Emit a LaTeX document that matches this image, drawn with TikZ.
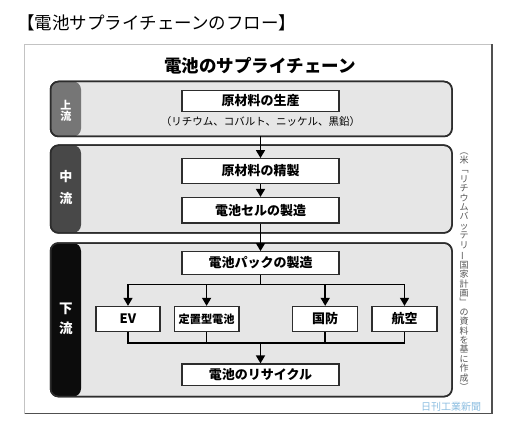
\documentclass[tikz,border=0pt]{standalone}
\usepackage{fontspec}
\usepackage{graphicx}
\usetikzlibrary{arrows.meta}
\setmainfont{Noto Sans CJK JP}
\definecolor{bandfill}{RGB}{230,230,230}
\definecolor{bandline}{RGB}{45,45,45}
\definecolor{tabA}{RGB}{118,118,118}
\definecolor{tabB}{RGB}{72,72,72}
\definecolor{tabC}{RGB}{12,12,12}
\definecolor{framelt}{RGB}{195,195,195}
\definecolor{framedk}{RGB}{80,80,80}
\definecolor{notegray}{RGB}{85,85,85}
\definecolor{wmblue}{RGB}{140,190,225}
\tikzset{
  band/.style={draw=bandline, line width=1.5pt, fill=bandfill, rounded corners=8pt, inner sep=0pt, outer sep=0pt},
  stepbox/.style={draw=bandline, line width=1.3pt, fill=white, inner sep=0pt, font=\bfseries\fontsize{13}{13}\selectfont},
  tablabel/.style={text=white, align=center, inner sep=0pt},
  flow/.style={line width=1.6pt, draw=black},
  flowarrow/.style={flow, -{Triangle[width=9pt,length=8pt]}}
}
\begin{document}
\begin{tikzpicture}[x=1pt,y=-1pt]
\useasboundingbox (0,0) rectangle (529,422);
\fill[white] (0,0) rectangle (529,422);
% title
\node[anchor=west, inner sep=0pt, font=\fontsize{17.5}{17.5}\selectfont] (title) at (17,23) {【電池サプライチェーンのフロー】};
% frame
\fill[white] (24.5,44.5) rectangle (492,413.5);
\draw[framelt, line width=0.8pt] (24.5,413.5) -- (24.5,44.5) -- (492,44.5);
\draw[framedk, line width=1.2pt] (492,44.5) -- (492,413.5) -- (24.5,413.5);
% inner title
\node[font=\bfseries\fontsize{17.5}{17.5}\selectfont, inner sep=0pt] (head) at (260,66) {電池のサプライチェーン};
% bands
\node[band, minimum width=401.5pt, minimum height=55pt,
  path picture={\fill[tabA] (path picture bounding box.north west) rectangle ([xshift=30.5pt]path picture bounding box.south west);}]
  (up) at (251.25,109) {};
\node[band, minimum width=401.5pt, minimum height=87.7pt,
  path picture={\fill[tabB] (path picture bounding box.north west) rectangle ([xshift=30.5pt]path picture bounding box.south west);}]
  (mid) at (251.25,189.05) {};
\node[band, minimum width=401.5pt, minimum height=153.6pt,
  path picture={\fill[tabC] (path picture bounding box.north west) rectangle ([xshift=30.5pt]path picture bounding box.south west);}]
  (down) at (251.25,319.8) {};
\draw[bandline, line width=1.5pt, rounded corners=8pt] (up.north west) rectangle (up.south east);
\draw[bandline, line width=1.5pt, rounded corners=8pt] (mid.north west) rectangle (mid.south east);
\draw[bandline, line width=1.5pt, rounded corners=8pt] (down.north west) rectangle (down.south east);
% tab labels
\node[tablabel, font=\bfseries\fontsize{11}{11.5}\selectfont] (lup) at (65.8,111) {上\\流};
\node[tablabel, font=\bfseries\fontsize{13}{22}\selectfont] (lmid) at (65.8,188) {中\\流};
\node[tablabel, font=\bfseries\fontsize{13.5}{20}\selectfont] (ldown) at (65.8,319) {下\\流};
% boxes
\node[stepbox, minimum width=157pt, minimum height=21pt] (raw) at (260.5,100.9) {原材料の生産};
\node[inner sep=0pt, font=\fontsize{10.5}{10.5}\selectfont] (rawsub) at (260.5,121.5) {（リチウム、コバルト、ニッケル、黒鉛）};
\node[stepbox, minimum width=157pt, minimum height=24.6pt] (refine) at (260.5,171) {原材料の精製};
\node[stepbox, minimum width=157pt, minimum height=25.3pt] (cell) at (260.5,210.2) {電池セルの製造};
\node[stepbox, minimum width=157pt, minimum height=22.5pt] (pack) at (260.5,263) {電池パックの製造};
\node[stepbox, minimum width=64pt, minimum height=25pt] (ev) at (128,319) {EV};
\node[stepbox, minimum width=64.5pt, minimum height=25pt, font=\bfseries\fontsize{11.2}{11.2}\selectfont] (stat) at (206.6,319) {定置型電池};
\node[stepbox, minimum width=64.8pt, minimum height=25pt] (def) at (325.2,319) {国防};
\node[stepbox, minimum width=65pt, minimum height=25pt] (air) at (404.5,319) {航空};
\node[stepbox, minimum width=157pt, minimum height=21.5pt] (rec) at (260.5,374.8) {電池のリサイクル};
% connectors
\coordinate (split) at (260.5,284.3);
\coordinate (merge) at (260.5,342.7);
\draw[flowarrow] (raw.south |- up.south) -- (refine.north);
\draw[flowarrow] (refine.south) -- (cell.north);
\draw[flowarrow] (cell.south) -- (pack.north);
\draw[flow] (pack.south) -- (split);
\draw[flowarrow] (split) -| (ev.north);
\draw[flowarrow] (split) -| (stat.north);
\draw[flowarrow] (split) -| (def.north);
\draw[flowarrow] (split) -| (air.north);
\draw[flow] (ev.south) |- (merge);
\draw[flow] (stat.south) |- (merge);
\draw[flow] (def.south) |- (merge);
\draw[flow] (air.south) |- (merge);
\draw[flowarrow] (merge) -- (rec.north);
% source note (vertical)
\node[inner sep=0pt, align=center, text=notegray, font=\fontsize{9}{9.4}\selectfont] (note) at (464,271.5)
 {︵\\米\\﹁\\リ\\チ\\ウ\\ム\\バ\\ッ\\テ\\リ\\\rotatebox[origin=c]{90}{ー}\\国\\家\\計\\画\\﹂\\の\\資\\料\\を\\基\\に\\作\\成\\︶};
% watermark
\node[inner sep=0pt, text=wmblue, font=\fontsize{10}{10}\selectfont] (wm) at (451,406.5) {日刊工業新聞};
\end{tikzpicture}
\end{document}
